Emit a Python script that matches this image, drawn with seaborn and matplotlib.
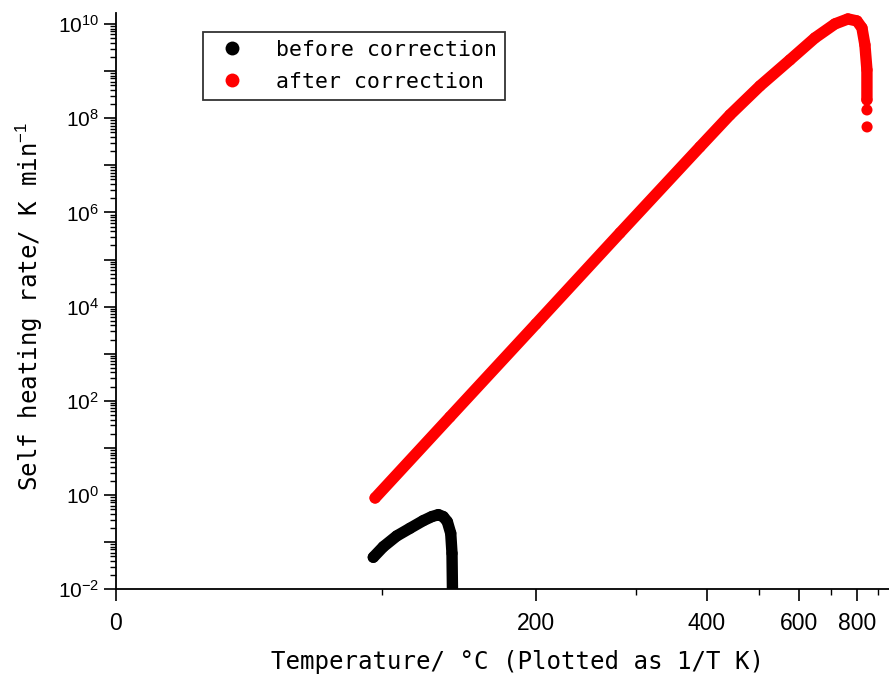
import numpy as np
import pandas as pd
import matplotlib
matplotlib.use("Agg")
import matplotlib.pyplot as plt
import matplotlib.ticker as mticker
import seaborn as sns

# ---- data ----
before_T = [95.5, 100.6, 107.6, 114.8, 122.3, 127.25, 131.2, 134.2, 136.7, 138.8, 139.6, 140.0]
before_rate = [0.0478, 0.0801, 0.1355, 0.197, 0.286, 0.348, 0.384, 0.348, 0.272, 0.1545, 0.058, 0.005]

after_T = [96.4, 138.3, 200.0, 281.1, 389.2, 441.5, 502.8, 575.5, 647.5, 714.4, 763.4,
           800.3, 821.9, 835.2, 844.4, 844.4, 844.4, 845.0]
after_rate = [0.868, 45.5, 4295, 3.67e5, 2.46e7, 1.175e8, 4.85e8, 1.73e9, 5.07e9, 1.005e10, 1.28e10,
              1.16e10, 8.26e9, 3.6e9, 1.06e9, 2.45e8, 1.5e8, 6.53e7]
after_line_n = 16  # the last isolated dots are not joined

x_major = [0, 200, 400, 600, 800]
x_minor = [100, 300, 500, 700, 900]
x_lim = (0, 956)
y_lim = (1e-2, 10 ** 10.24)

labels = ["before correction", "after correction"]
colors = {"before correction": "black", "after correction": "red"}

df = pd.DataFrame({
    "T": before_T + after_T,
    "rate": before_rate + after_rate,
    "series": [labels[0]] * len(before_T) + [labels[1]] * len(after_T),
})

sns.set_style("ticks")
plt.rcParams["font.family"] = ["DejaVu Sans"]
plt.rcParams["mathtext.fontset"] = "custom"
plt.rcParams["mathtext.rm"] = "Liberation Sans"
for k in ["text.color", "axes.labelcolor", "xtick.color", "ytick.color", "axes.edgecolor"]:
    plt.rcParams[k] = "black"

label_font = ["DejaVu Sans Mono", "DejaVu Sans"]

fig = plt.figure(figsize=(8.89, 6.86), dpi=100)
ax = fig.add_axes([0.1302, 0.141, 1.0 - 0.1302, 0.9815 - 0.141])

lw = 8.2
sns.lineplot(x=before_T, y=before_rate, color="black", lw=lw, sort=False,
             estimator=None, ax=ax, solid_capstyle="round", solid_joinstyle="round",
             legend=False)
sns.lineplot(x=after_T[:after_line_n], y=after_rate[:after_line_n], color="red", lw=lw,
             sort=False, estimator=None, ax=ax, solid_capstyle="round",
             solid_joinstyle="round", legend=False)
sns.scatterplot(data=df, x="T", y="rate", hue="series", hue_order=labels,
                palette=colors, s=64, edgecolor="none", ax=ax)


def fwd(t):
    t = np.asarray(t, dtype=float)
    with np.errstate(divide="ignore", invalid="ignore"):
        return -1.0 / (t + 273.15)


def inv(u):
    u = np.asarray(u, dtype=float)
    with np.errstate(divide="ignore", invalid="ignore"):
        return -1.0 / u - 273.15


ax.set_xscale("function", functions=(fwd, inv))
ax.set_yscale("log")
ax.set_xlim(*x_lim)
ax.set_ylim(*y_lim)

ax.xaxis.set_major_locator(mticker.FixedLocator(x_major))
ax.xaxis.set_minor_locator(mticker.FixedLocator(x_minor))
ax.xaxis.set_major_formatter(mticker.FixedFormatter([str(v) for v in x_major]))

ax.yaxis.set_major_locator(mticker.LogLocator(base=10, numticks=30))
ax.yaxis.set_minor_locator(mticker.LogLocator(base=10, subs=np.arange(2, 10), numticks=30))


def yfmt(v, pos):
    e = int(round(np.log10(v)))
    if e % 2 != 0:
        return ""
    return r"$\mathrm{10^{%d}}$" % e


ax.yaxis.set_major_formatter(mticker.FuncFormatter(yfmt))
ax.yaxis.set_minor_formatter(mticker.NullFormatter())

for side in ["top", "right"]:
    ax.spines[side].set_visible(False)
for side in ["left", "bottom"]:
    ax.spines[side].set_linewidth(1.3)
    ax.spines[side].set_color("black")

ax.tick_params(axis="both", which="major", direction="out", length=8.5, width=1.2,
               color="black", labelsize=15)
ax.tick_params(axis="both", which="minor", direction="out", length=4.3, width=1.0,
               color="black")
ax.tick_params(axis="x", which="major", pad=8)
for lab in ax.get_xticklabels():
    lab.set_family(["Liberation Sans Narrow", "Liberation Sans", "DejaVu Sans"])
    lab.set_fontsize(16.5)

ax.set_xlabel("Temperature/ °C (Plotted as 1/T K)", fontsize=17.4, family=label_font)
ax.set_ylabel(r"Self heating rate/ K min$^{-1}$", fontsize=17.4, family=label_font)
ax.xaxis.set_label_coords(0.52, -0.105)
ax.yaxis.set_label_coords(-0.092, 0.49)

leg = ax.legend(loc="upper left", bbox_to_anchor=(0.1125, 0.967), borderaxespad=0,
                fancybox=False, frameon=True, edgecolor="black",
                prop={"family": label_font, "size": 15.5},
                handlelength=2.0, handletextpad=1.0, borderpad=0.38, labelspacing=0.55,
                markerscale=1.25)
leg.get_frame().set_linewidth(1.3)

fig.savefig("out.png", dpi=100)
